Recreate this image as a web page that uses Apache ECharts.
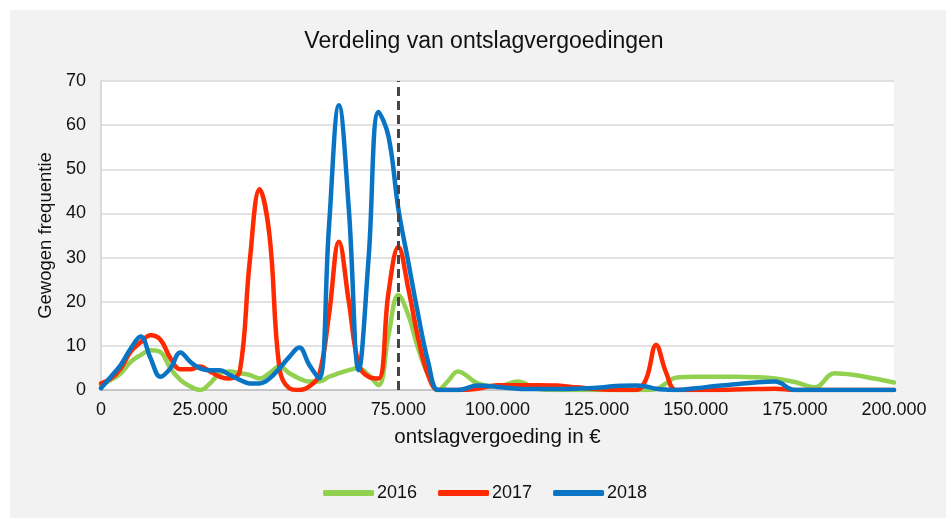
<!DOCTYPE html>
<html>
<head>
<meta charset="utf-8">
<script src="https://cdn.jsdelivr.net/npm/echarts@6/dist/echarts.min.js"></script>
<style>
html,body{margin:0;padding:0;background:#fff;}
#chart{width:946px;height:518px;}
</style>
</head>
<body>
<div id="chart"></div>
<script>
// ---- data ----
var title = 'Verdeling van ontslagvergoedingen';
var xName = 'ontslagvergoeding in €';
var yName = 'Gewogen frequentie';
var seriesNames = ['2016', '2017', '2018'];
var xValues = [0, 2500, 5000, 7500, 10000, 12500, 15000, 17500, 20000, 22500,
  25000, 27500, 30000, 32500, 35000, 37500, 40000, 42500, 45000, 47500,
  50000, 52500, 55000, 57500, 60000, 62500, 65000, 67500, 70000, 72500,
  75000, 77500, 80000, 82500, 85000, 87500, 90000, 95000, 100000, 105000,
  110000, 115000, 120000, 125000, 130000, 135000, 137500, 140000, 142500, 145000,
  150000, 155000, 160000, 165000, 170000, 175000, 180000, 185000, 190000, 195000, 200000];
var y2016 = [1.1, 2.3, 3.8, 6.4, 7.9, 9.0, 8.6, 4.9, 2.3, 0.8,
  0, 1.5, 3.8, 4.2, 3.8, 3.4, 2.6, 3.8, 5.3, 3.8,
  2.6, 1.9, 1.9, 3.0, 3.8, 4.5, 4.9, 3.4, 1.1, 12.4,
  21.5, 17, 9.4, 3.4, 0, 2.0, 4.2, 1.5, 0.8, 1.9,
  0.3, 0, 0, 0, 0, 0, 0, 0.2, 1.5, 2.8,
  3.0, 3.0, 3.0, 2.9, 2.6, 1.8, 0.6, 3.8, 3.4, 2.6, 1.7];
var y2017 = [1.5, 2.6, 4.9, 8.7, 10.8, 12.4, 11.4, 7.2, 4.7, 4.7,
  5.3, 4.2, 3.0, 2.6, 4.2, 29, 45.5, 35, 5, 0.4,
  0, 0.8, 3.4, 17, 33.6, 20, 5.7, 3.0, 2.6, 22,
  32.4, 23, 11.7, 3.4, 0, 0, 0, 0.3, 1.1, 1.1,
  1.1, 1.0, 0.6, 0.2, 0, 0, 2.5, 10.2, 4, 0,
  0, 0, 0.1, 0.2, 0.3, 0, 0, 0, 0, 0, 0];
var y2018 = [0.4, 3.0, 5.7, 9.4, 12.1, 7.2, 3.0, 4.9, 8.5, 6.4,
  4.9, 4.5, 4.5, 3.4, 2.3, 1.5, 1.5, 2.6, 4.9, 7.5,
  9.6, 5.7, 2.6, 37, 64.5, 41, 4.5, 30, 63, 57.5,
  41, 29, 17, 6.4, 0, 0, 0, 1, 0.7, 0.3,
  0.2, 0.2, 0.3, 0.5, 0.9, 1.0, 0.8, 0.3, 0.1, 0,
  0.4, 0.9, 1.3, 1.7, 1.9, 0, 0, 0, 0, 0, 0];
var xTicks = [0, 25000, 50000, 75000, 100000, 125000, 150000, 175000, 200000];
var yTicks = [0, 10, 20, 30, 40, 50, 60, 70];
var refLineX = 75000;
var colors = ['#92d050', '#ff2a00', '#0a74c4'];

function pairs(ys) { return xValues.map(function (x, i) { return [x, ys[i]]; }); }
function fmt(v) { return String(v).replace(/\B(?=(\d{3})+(?!\d))/g, '.'); }

var FONT = 'Liberation Sans';
var chart = echarts.init(document.getElementById('chart'), null, {renderer: 'canvas'});
var allY = [y2016, y2017, y2018];
var series = seriesNames.map(function (n, i) {
  var s = {
    name: n, type: 'line', smooth: 0.4, showSymbol: false, symbol: 'none',
    data: pairs(allY[i]),
    lineStyle: {color: colors[i], width: 4.5, cap: 'round', join: 'round'},
    itemStyle: {color: colors[i]},
    z: 2 + i
  };
  if (i === 2) {
    s.markLine = {
      silent: true, symbol: ['none', 'none'], label: {show: false},
      lineStyle: {color: '#454545', width: 3, type: [9, 5]},
      data: [{xAxis: refLineX}],
      z: 10
    };
  }
  return s;
});

chart.setOption({
  backgroundColor: '#ffffff',
  animation: false,
  textStyle: {fontFamily: FONT},
  graphic: [{
    type: 'rect', left: 10, top: 10, z: -10,
    shape: {width: 936, height: 508},
    style: {fill: '#f2f2f2'}
  }],
  title: {
    text: title, left: 479, top: 25, textAlign: 'center',
    textStyle: {fontFamily: FONT, fontSize: 23, fontWeight: 'normal', color: '#111'}
  },
  legend: {
    data: seriesNames, left: 318, top: 479, itemWidth: 51, itemHeight: 6, itemGap: 21,
    icon: 'roundRect',
    textStyle: {fontFamily: FONT, fontSize: 18, color: '#111', padding: [0, 0, 0, -2]}
  },
  grid: {
    left: 101, right: 52, top: 81, bottom: 128,
    show: true, backgroundColor: '#ffffff', borderWidth: 0
  },
  xAxis: {
    type: 'value', min: xTicks[0], max: xTicks[xTicks.length - 1], interval: xTicks[1] - xTicks[0],
    name: xName, nameLocation: 'middle', nameGap: 37,
    nameTextStyle: {fontFamily: FONT, fontSize: 20.5, color: '#111'},
    axisLine: {show: true, lineStyle: {color: '#bfbfbf', width: 1.5}},
    axisTick: {show: false},
    splitLine: {show: false},
    axisLabel: {fontFamily: FONT, fontSize: 18, color: '#111', margin: 11, formatter: fmt}
  },
  yAxis: {
    type: 'value', min: yTicks[0], max: yTicks[yTicks.length - 1], interval: yTicks[1] - yTicks[0],
    name: yName, nameLocation: 'middle', nameGap: 44,
    nameTextStyle: {fontFamily: FONT, fontSize: 18.5, color: '#111'},
    axisLine: {show: true, lineStyle: {color: '#d0d0d0', width: 1.5}},
    axisTick: {show: false},
    splitLine: {show: true, lineStyle: {color: '#d9d9d9', width: 1.5}},
    axisLabel: {fontFamily: FONT, fontSize: 18, color: '#111', margin: 15}
  },
  series: series
});
</script>
</body>
</html>
